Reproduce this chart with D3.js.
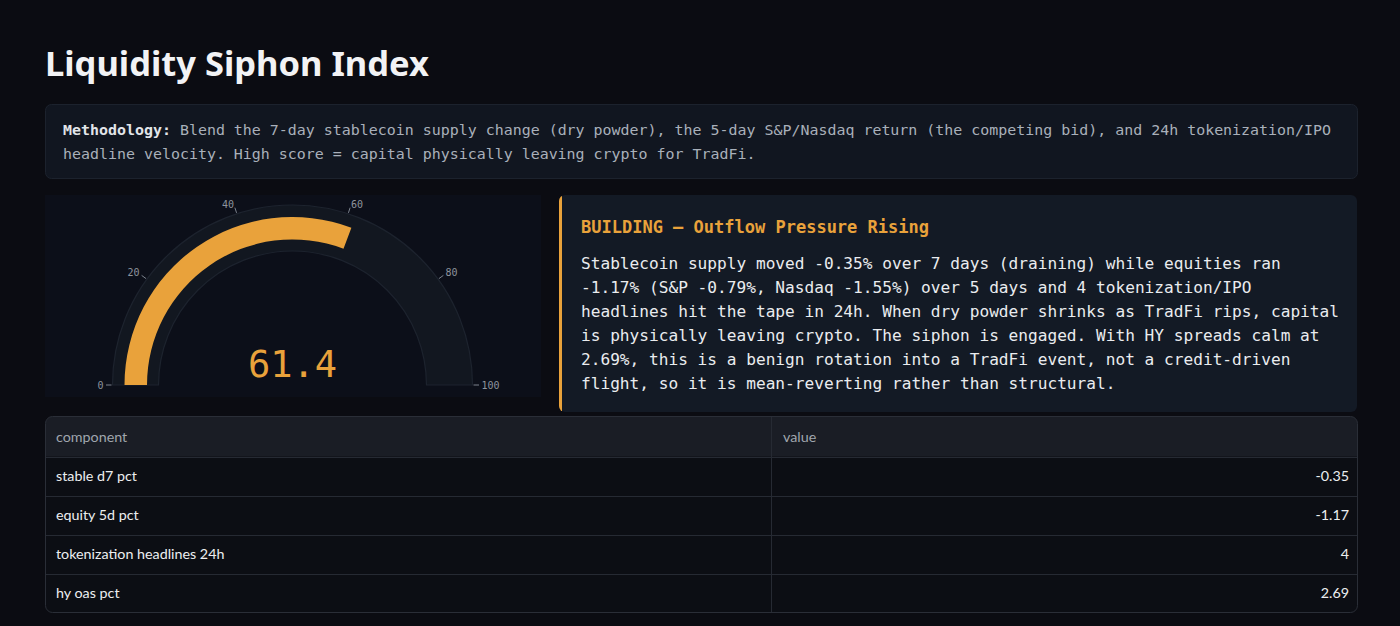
<!DOCTYPE html>
<html>
<head>
<meta charset="utf-8">
<script src="https://cdn.jsdelivr.net/npm/d3@7"></script>
<style>
  html, body { margin: 0; padding: 0; background: #0b0c12; }
  svg { display: block; }
</style>
</head>
<body>
<script>
// ---------- data ----------
const titleText = "Liquidity Siphon Index";
const score = 61.4;
const gaugeDomain = [0, 100];
const gaugeTicks = [0, 20, 40, 60, 80, 100];
const methodologyLabel = "Methodology:";
const methodologyLines = [
  " Blend the 7-day stablecoin supply change (dry powder), the 5-day S&P/Nasdaq return (the competing bid), and 24h tokenization/IPO",
  "headline velocity. High score = capital physically leaving crypto for TradFi."
];
const statusTitle = "BUILDING — Outflow Pressure Rising";
const statusLines = [
  "Stablecoin supply moved -0.35% over 7 days (draining) while equities ran",
  "-1.17% (S&P -0.79%, Nasdaq -1.55%) over 5 days and 4 tokenization/IPO",
  "headlines hit the tape in 24h. When dry powder shrinks as TradFi rips, capital",
  "is physically leaving crypto. The siphon is engaged. With HY spreads calm at",
  "2.69%, this is a benign rotation into a TradFi event, not a credit-driven",
  "flight, so it is mean-reverting rather than structural."
];
const tableColumns = ["component", "value"];
const components = ["stable d7 pct", "equity 5d pct", "tokenization headlines 24h", "hy oas pct"];
const values = [-0.35, -1.17, 4, 2.69];

// ---------- style ----------
const W = 1400, H = 626;
const ORANGE = "#e9a23b";
const MONO = "'DejaVu Sans Mono', 'Liberation Mono', monospace";
const SANS = "Lato, 'Noto Sans', sans-serif";
const TFS = 14.3;

const svg = d3.select("body").append("svg").attr("width", W).attr("height", H);
svg.append("rect").attr("width", W).attr("height", H).attr("fill", "#0b0c12");

// ---------- title ----------
svg.append("text")
  .attr("x", 45).attr("y", 76)
  .attr("font-family", "'Noto Sans', sans-serif")
  .attr("font-weight", 700).attr("font-size", 34.5)
  .attr("fill", "#f2f3f5")
  .text(titleText);

// ---------- methodology box ----------
svg.append("rect")
  .attr("x", 45.5).attr("y", 104.5).attr("width", 1312).attr("height", 74)
  .attr("rx", 6).attr("fill", "#111620").attr("stroke", "#1c222d");
const meth = svg.append("g").attr("font-family", MONO).attr("font-size", 14.95);
const m1 = meth.append("text").attr("x", 63).attr("y", 135).attr("fill", "#a9b0ba");
m1.append("tspan").attr("font-weight", 700).attr("fill", "#e2e5e9").text(methodologyLabel);
m1.append("tspan").text(methodologyLines[0]);
meth.append("text").attr("x", 63).attr("y", 159).attr("fill", "#a9b0ba").text(methodologyLines[1]);

// ---------- gauge panel ----------
svg.append("rect").attr("x", 45).attr("y", 195).attr("width", 496).attr("height", 202)
  .attr("fill", "#0c0f19");

const cx = 292.5, cy = 385;
const angle = d3.scaleLinear().domain(gaugeDomain).range([-Math.PI / 2, Math.PI / 2]);
const g = svg.append("g").attr("transform", `translate(${cx},${cy})`);

// track
g.append("path")
  .attr("d", d3.arc()({ innerRadius: 134, outerRadius: 180, startAngle: angle(0), endAngle: angle(100) }))
  .attr("fill", "#121720").attr("stroke", "#1d232e").attr("stroke-width", 1.2);
// value bar
g.append("path")
  .attr("d", d3.arc()({ innerRadius: 145.5, outerRadius: 168, startAngle: angle(0), endAngle: angle(score) }))
  .attr("fill", ORANGE);

// ticks
const tickG = g.selectAll("g.tick").data(gaugeTicks).enter().append("g").attr("class", "tick");
tickG.append("line")
  .attr("x1", d => 181 * Math.sin(angle(d))).attr("y1", d => -181 * Math.cos(angle(d)))
  .attr("x2", d => 186.5 * Math.sin(angle(d))).attr("y2", d => -186.5 * Math.cos(angle(d)))
  .attr("stroke", "#7c838e").attr("stroke-width", 1);
tickG.append("text")
  .attr("x", d => 189 * Math.sin(angle(d)))
  .attr("y", d => -189 * Math.cos(angle(d)) - (d === 0 || d === 100 ? 0 : 1))
  .attr("dy", "0.35em")
  .attr("text-anchor", d => d < 50 ? "end" : "start")
  .attr("font-family", MONO).attr("font-size", 10)
  .attr("fill", "#8e949d")
  .text(d => d);

// value label
g.append("text")
  .attr("x", 0).attr("y", -8.3)
  .attr("text-anchor", "middle")
  .attr("font-family", MONO).attr("font-size", 37)
  .attr("fill", ORANGE)
  .text(score.toFixed(1));

// ---------- status card ----------
const card = { x: 559, y: 195, w: 798, h: 217 };
svg.append("clipPath").attr("id", "cardClip")
  .append("rect").attr("x", card.x).attr("y", card.y).attr("width", card.w).attr("height", card.h).attr("rx", 6);
svg.append("rect").attr("x", card.x).attr("y", card.y).attr("width", card.w).attr("height", card.h)
  .attr("rx", 6).attr("fill", "#131a25");
svg.append("rect").attr("x", card.x).attr("y", card.y).attr("width", 3).attr("height", card.h)
  .attr("fill", ORANGE).attr("clip-path", "url(#cardClip)");
svg.append("text")
  .attr("x", 581).attr("y", 233)
  .attr("font-family", MONO).attr("font-weight", 700).attr("font-size", 17)
  .attr("fill", ORANGE)
  .text(statusTitle);
const lineY = d3.scaleLinear().domain([0, 1]).range([268.5, 292.5]);
svg.append("g").attr("font-family", MONO).attr("font-size", 16.15).attr("fill", "#eaecef")
  .selectAll("text").data(statusLines).enter().append("text")
  .attr("x", 581).attr("y", (d, i) => lineY(i))
  .text(d => d);

// ---------- table ----------
const tbl = { x: 45.5, y: 416.5, w: 1312, h: 196 };
const headerH = 40;
svg.append("clipPath").attr("id", "tblClip")
  .append("rect").attr("x", tbl.x).attr("y", tbl.y).attr("width", tbl.w).attr("height", tbl.h).attr("rx", 7);
const tg = svg.append("g");
tg.append("rect").attr("x", tbl.x).attr("y", tbl.y).attr("width", tbl.w).attr("height", tbl.h)
  .attr("rx", 7).attr("fill", "#0c0e14");
tg.append("rect").attr("x", tbl.x).attr("y", tbl.y).attr("width", tbl.w).attr("height", headerH)
  .attr("fill", "#1a1d25").attr("clip-path", "url(#tblClip)");

const rowY = d3.scaleBand().domain(components).range([tbl.y + headerH, tbl.y + tbl.h]);
const colX = 771.5;

// row separators
tg.selectAll("line.row").data(components).enter().append("line")
  .attr("x1", tbl.x).attr("x2", tbl.x + tbl.w)
  .attr("y1", d => Math.round(rowY(d)) + 0.5).attr("y2", d => Math.round(rowY(d)) + 0.5)
  .attr("stroke", "#262a33");
tg.append("line").attr("x1", colX).attr("x2", colX).attr("y1", tbl.y).attr("y2", tbl.y + tbl.h)
  .attr("stroke", "#262a33");
tg.append("rect").attr("x", tbl.x).attr("y", tbl.y).attr("width", tbl.w).attr("height", tbl.h)
  .attr("rx", 7).attr("fill", "none").attr("stroke", "#2a2e37");

// header text
tg.append("text").attr("x", 56).attr("y", tbl.y + headerH / 2).attr("dy", "0.35em")
  .attr("font-family", SANS).attr("font-size", TFS).attr("fill", "#a0a6ae").text(tableColumns[0]);
tg.append("text").attr("x", 783).attr("y", tbl.y + headerH / 2).attr("dy", "0.35em")
  .attr("font-family", SANS).attr("font-size", TFS).attr("fill", "#a0a6ae").text(tableColumns[1]);

// cells
tg.selectAll("text.comp").data(components).enter().append("text")
  .attr("x", 56).attr("y", d => rowY(d) + rowY.bandwidth() / 2).attr("dy", "0.35em")
  .attr("font-family", SANS).attr("font-size", TFS).attr("fill", "#eceef1")
  .text(d => d);
tg.selectAll("text.val").data(values).enter().append("text")
  .attr("x", 1349).attr("y", (d, i) => rowY(components[i]) + rowY.bandwidth() / 2).attr("dy", "0.35em")
  .attr("text-anchor", "end")
  .attr("font-family", SANS).attr("font-size", TFS).attr("fill", "#eceef1")
  .text(d => String(d));
</script>
</body>
</html>
